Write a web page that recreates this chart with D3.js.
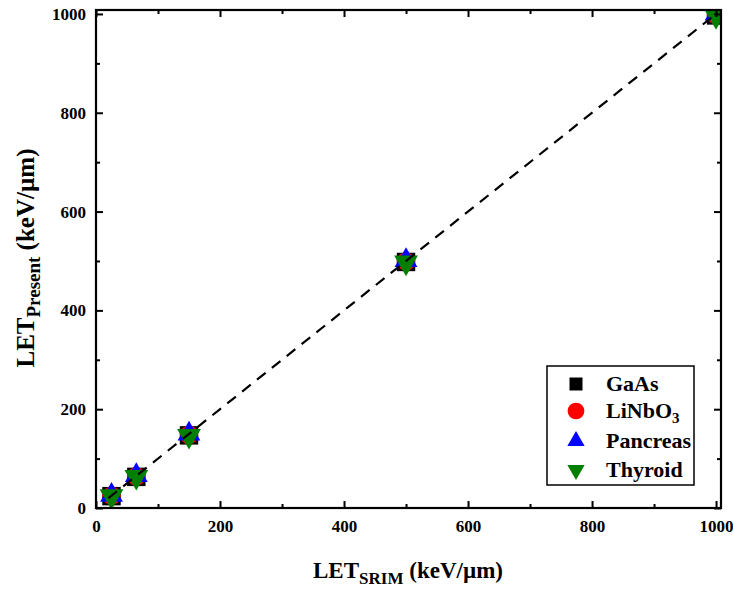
<!DOCTYPE html>
<html>
<head>
<meta charset="utf-8">
<script src="https://cdn.jsdelivr.net/npm/d3@7"></script>
<style>
  body { margin: 0; background: #fff; }
  svg { display: block; }
  text { font-family: "Liberation Serif", "Times New Roman", serif; font-weight: bold; fill: #000; }
</style>
</head>
<body>
<svg id="chart" width="733" height="590"></svg>
<script>
// LET values (keV/µm) computed by SRIM vs. present method
const letSrim = [25, 65, 150, 500, 1000];
const gaAs     = [24, 63, 147, 498, 997];
const liNbO3   = [25, 64, 148, 499, 998];
const pancreas = [26, 66, 150, 501, 1000];
const thyroid  = [24, 63, 146, 497, 996];

const seriesNames  = ["GaAs", "LiNbO3", "Pancreas", "Thyroid"];
const seriesValues = [gaAs, liNbO3, pancreas, thyroid];
const seriesColors = ["#000000", "#ff0000", "#0000ff", "#007f00"];

const xTicks = [0, 200, 400, 600, 800, 1000];
const yTicks = [0, 200, 400, 600, 800, 1000];
const fitLine = [20, 1000];

const svg = d3.select("#chart");
const mLeft = 96, mRight = 721, mTop = 10, mBottom = 508;

const x = d3.scaleLinear().domain([0, 1008]).range([mLeft, mRight]);
const y = d3.scaleLinear().domain([0, 1008]).range([mBottom, mTop]);

// clip region for marks
svg.append("clipPath").attr("id", "plotClip")
  .append("rect").attr("x", mLeft).attr("y", mTop)
  .attr("width", mRight - mLeft).attr("height", mBottom - mTop);

const plot = svg.append("g").attr("clip-path", "url(#plotClip)");

// marker shapes
const symbols = [
  d3.symbol().type(d3.symbolSquare).size(340),
  d3.symbol().type(d3.symbolCircle).size(270),
  d3.symbol().type(d3.symbolTriangle).size(225),
  d3.symbol().type(d3.symbolTriangle).size(245)
];
const rotations = [0, 0, 0, 180];

seriesValues.forEach((vals, i) => {
  plot.append("g").selectAll("path")
    .data(vals.map((v, j) => [letSrim[j], v]))
    .join("path")
    .attr("d", symbols[i])
    .attr("fill", seriesColors[i])
    .attr("transform", d => `translate(${x(d[0])},${y(d[1])}) rotate(${rotations[i]})`);
});

// dashed y = x reference line, drawn over the markers
plot.append("line")
  .attr("x1", x(fitLine[0])).attr("y1", y(fitLine[0]))
  .attr("x2", x(fitLine[1])).attr("y2", y(fitLine[1]))
  .attr("stroke", "#000").attr("stroke-width", 2.2)
  .attr("stroke-dasharray", "11,8");

// axes with inward ticks on all four sides
const minorX = d3.range(100, 1001, 200);
const minorY = d3.range(100, 1001, 200);

function ticksOn(g, axis) { g.call(axis); g.select(".domain").remove(); g.selectAll("line").attr("stroke-width", 2); }

const axB = svg.append("g").attr("transform", `translate(0,${mBottom})`);
ticksOn(axB, d3.axisBottom(x).tickValues(xTicks).tickSize(-7).tickPadding(12).tickFormat(d3.format("d")));
axB.append("g").call(g => ticksOn(g, d3.axisBottom(x).tickValues(minorX).tickSize(-4).tickFormat("")));

const axT = svg.append("g").attr("transform", `translate(0,${mTop})`);
ticksOn(axT, d3.axisTop(x).tickValues(xTicks).tickSize(-7).tickFormat(""));
axT.append("g").call(g => ticksOn(g, d3.axisTop(x).tickValues(minorX).tickSize(-4).tickFormat("")));

const axL = svg.append("g").attr("transform", `translate(${mLeft},0)`);
ticksOn(axL, d3.axisLeft(y).tickValues(yTicks).tickSize(-7).tickPadding(10).tickFormat(d3.format("d")));
axL.append("g").call(g => ticksOn(g, d3.axisLeft(y).tickValues(minorY).tickSize(-4).tickFormat("")));

const axR = svg.append("g").attr("transform", `translate(${mRight},0)`);
ticksOn(axR, d3.axisRight(y).tickValues(yTicks).tickSize(-7).tickFormat(""));
axR.append("g").call(g => ticksOn(g, d3.axisRight(y).tickValues(minorY).tickSize(-4).tickFormat("")));

svg.selectAll(".tick text")
  .style("font-family", "'Liberation Serif', serif")
  .style("font-weight", "bold").style("font-size", "17px").attr("fill", "#000");

// frame
svg.append("rect").attr("x", mLeft).attr("y", mTop)
  .attr("width", mRight - mLeft).attr("height", mBottom - mTop)
  .attr("fill", "none").attr("stroke", "#000").attr("stroke-width", 2.2);

// axis titles
const xt = svg.append("text").attr("x", 408).attr("y", 578)
  .attr("text-anchor", "middle").style("font-size", "23px");
xt.append("tspan").text("LET");
xt.append("tspan").attr("dy", 6).style("font-size", "17px").text("SRIM");
xt.append("tspan").attr("dy", -6).text(" (keV/µm)");

const yt = svg.append("text")
  .attr("transform", `translate(34,258) rotate(-90)`)
  .attr("text-anchor", "middle").style("font-size", "25px");
yt.append("tspan").text("LET");
yt.append("tspan").attr("dy", 6).style("font-size", "19px").text("Present");
yt.append("tspan").attr("dy", -6).text(" (keV/µm)");

// legend
const lg = svg.append("g");
lg.append("rect").attr("x", 547).attr("y", 366).attr("width", 147).attr("height", 119)
  .attr("fill", "#fff").attr("stroke", "#000").attr("stroke-width", 1.5);
const rowsY = [384, 411, 441, 470];
const legendSymbols = [
  d3.symbol().type(d3.symbolSquare).size(169),
  d3.symbol().type(d3.symbolCircle).size(220),
  d3.symbol().type(d3.symbolTriangle).size(130),
  d3.symbol().type(d3.symbolTriangle).size(130)
];
seriesNames.forEach((name, i) => {
  lg.append("path").attr("d", legendSymbols[i]).attr("fill", seriesColors[i])
    .attr("transform", `translate(576,${rowsY[i]}) rotate(${rotations[i]})`);
  const t = lg.append("text").attr("x", 606).attr("y", rowsY[i] + 7).style("font-size", "22px");
  if (name === "LiNbO3") {
    t.append("tspan").text("LiNbO");
    t.append("tspan").attr("dy", 5).style("font-size", "15px").text("3");
  } else {
    t.text(name);
  }
});
</script>
</body>
</html>
